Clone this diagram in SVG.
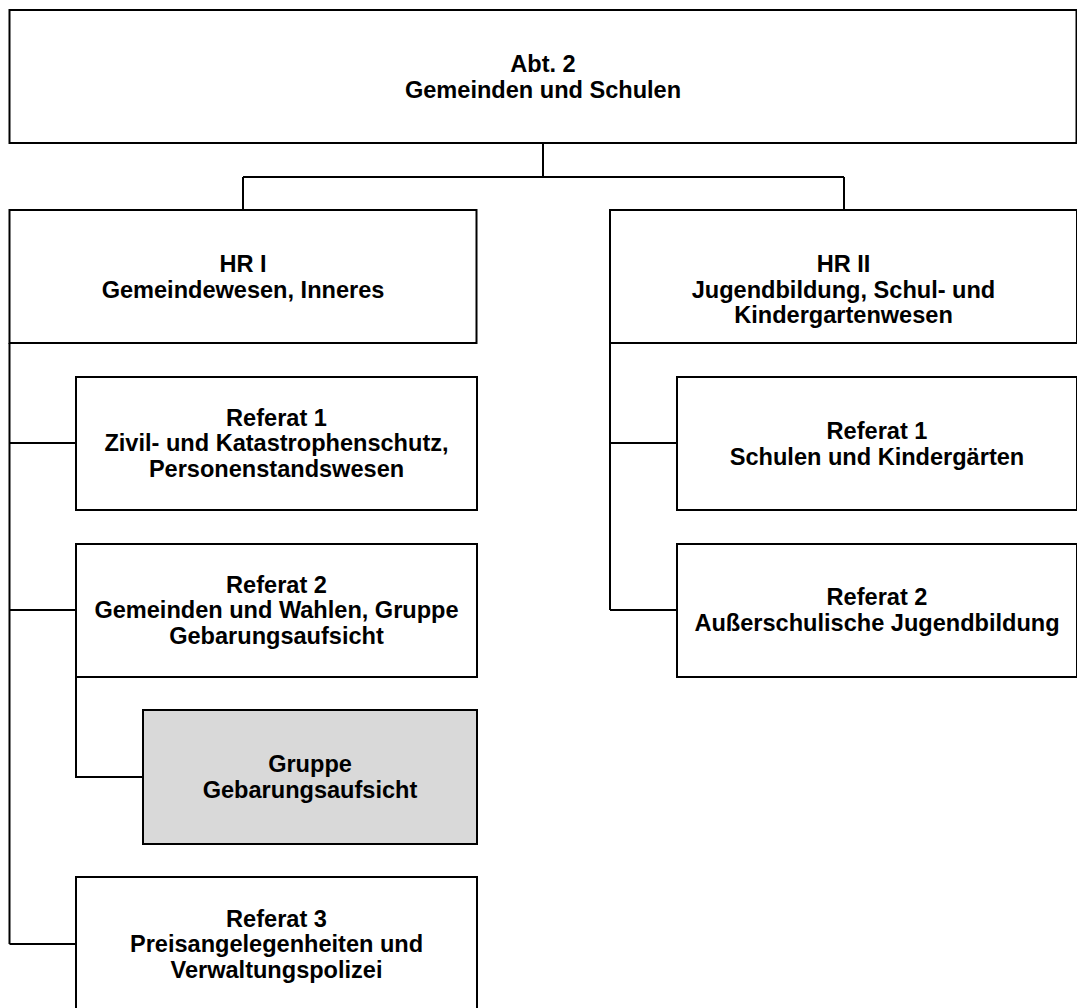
<svg xmlns="http://www.w3.org/2000/svg" width="1077" height="1008" viewBox="0 0 1077 1008">
<style>
.box{fill:#ffffff;stroke:#000000;stroke-width:2}
.grey{fill:#d9d9d9;stroke:#000000;stroke-width:2}
.con{fill:none;stroke:#000000;stroke-width:2}
.t{font-family:"Liberation Sans",Arial,sans-serif;font-weight:bold;font-size:23px;fill:#000000;text-anchor:middle}
</style>
<rect width="1077" height="1008" fill="#ffffff"/>
<g id="connectors">
<path class="con" d="M543,143 V177 M243,177 H844 M243,177 V210 M844,177 V210"/>
<path class="con" d="M9.5,343 V944 M9.5,443 H76 M9.5,610 H76 M9.5,944 H76"/>
<path class="con" d="M76,677 V777 H143"/>
<path class="con" d="M610,343 V610 M610,443 H677 M610,610 H677"/>
</g>
<g id="abt2">
<rect class="box" x="9.5" y="10" width="1067" height="133"/>
<text class="t" transform="matrix(1.025 0 0 1 543 0)"><tspan x="0" y="72">Abt. 2</tspan><tspan x="0" y="98">Gemeinden und Schulen</tspan></text>
</g>
<g id="hr1">
<rect class="box" x="9.5" y="210" width="467" height="133"/>
<text class="t" transform="matrix(1.025 0 0 1 243 0)"><tspan x="0" y="272">HR I</tspan><tspan x="0" y="298">Gemeindewesen, Inneres</tspan></text>
</g>
<g id="hr2">
<rect class="box" x="610" y="210" width="467" height="133"/>
<text class="t" transform="matrix(1.025 0 0 1 843.5 0)"><tspan x="0" y="272">HR II</tspan><tspan x="0" y="298">Jugendbildung, Schul- und</tspan><tspan x="0" y="323">Kindergartenwesen</tspan></text>
</g>
<g id="hr1-ref1">
<rect class="box" x="76" y="377" width="401" height="133"/>
<text class="t" transform="matrix(1.025 0 0 1 276.5 0)"><tspan x="0" y="426">Referat 1</tspan><tspan x="0" y="451.5">Zivil- und Katastrophenschutz,</tspan><tspan x="0" y="477">Personenstandswesen</tspan></text>
</g>
<g id="hr1-ref2">
<rect class="box" x="76" y="544" width="401" height="133"/>
<text class="t" transform="matrix(1.025 0 0 1 276.5 0)"><tspan x="0" y="593">Referat 2</tspan><tspan x="0" y="618.5">Gemeinden und Wahlen, Gruppe</tspan><tspan x="0" y="644">Gebarungsaufsicht</tspan></text>
</g>
<g id="gruppe">
<rect class="grey" x="143" y="710" width="334" height="134"/>
<text class="t" transform="matrix(1.025 0 0 1 310 0)"><tspan x="0" y="772">Gruppe</tspan><tspan x="0" y="798">Gebarungsaufsicht</tspan></text>
</g>
<g id="hr1-ref3">
<rect class="box" x="76" y="877" width="401" height="150"/>
<text class="t" transform="matrix(1.025 0 0 1 276.5 0)"><tspan x="0" y="927">Referat 3</tspan><tspan x="0" y="952.5">Preisangelegenheiten und</tspan><tspan x="0" y="978">Verwaltungspolizei</tspan></text>
</g>
<g id="hr2-ref1">
<rect class="box" x="677" y="377" width="400" height="133"/>
<text class="t" transform="matrix(1.025 0 0 1 877 0)"><tspan x="0" y="439">Referat 1</tspan><tspan x="0" y="465">Schulen und Kindergärten</tspan></text>
</g>
<g id="hr2-ref2">
<rect class="box" x="677" y="544" width="400" height="133"/>
<text class="t" transform="matrix(1.025 0 0 1 877 0)"><tspan x="0" y="605">Referat 2</tspan><tspan x="0" y="631">Außerschulische Jugendbildung</tspan></text>
</g>
</svg>
